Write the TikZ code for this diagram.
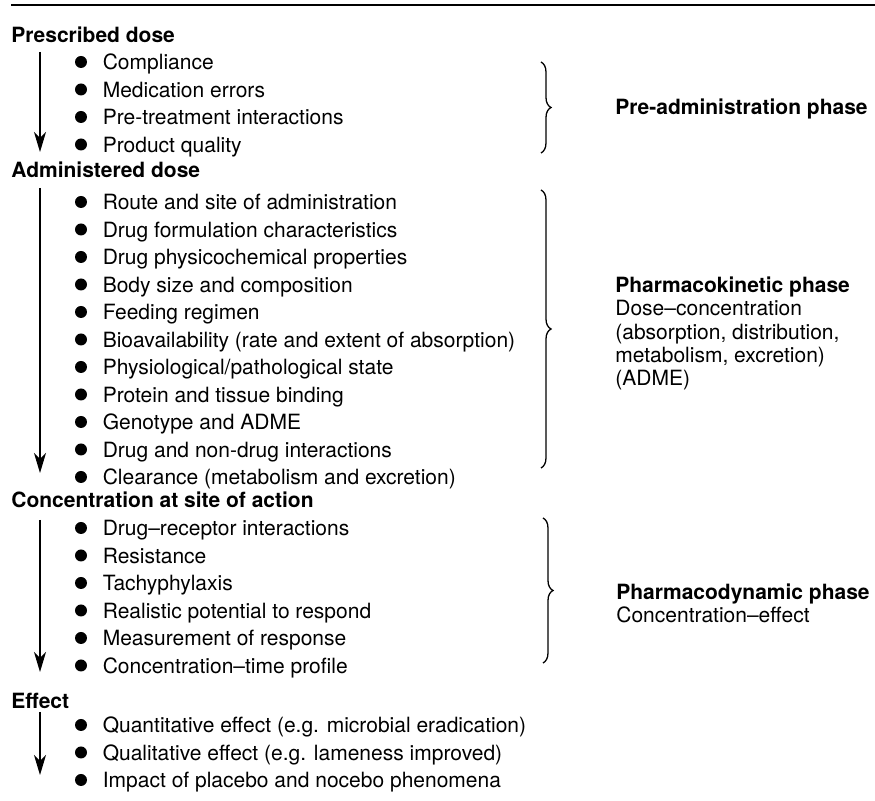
\documentclass[tikz,border=0pt]{standalone}
\usepackage{fontspec}
\setmainfont{TeX Gyre Heros}
\usetikzlibrary{positioning,arrows.meta,decorations.pathreplacing}

\tikzstyle{head} = [anchor=west, inner sep=0pt, text height=0.72em, text depth=0pt, font=\bfseries]
\tikzstyle{item} = [anchor=west, inner sep=0pt, text height=0.72em, text depth=0pt]
\tikzstyle{dot} = [circle, fill, minimum size=6pt, inner sep=0pt]
\tikzstyle{flow} = [line width=0.55pt, -{Stealth[length=10pt,width=6pt,inset=3pt]}]
\tikzstyle{curly} = [decorate, decoration={brace, amplitude=5pt}, line width=0.65pt]

\begin{document}
\fontsize{10.5pt}{12pt}\selectfont
\begin{tikzpicture}[x=0.5pt, y=-0.5pt, node distance=7.35pt]
\useasboundingbox (0,0) rectangle (875,801);
\draw[line width=1.2pt] (11,5) -- (875,5);

\node[head] (pres) at (11,35) {Prescribed dose};
\node[dot] (d1) at (81,62) {};
\node[dot, below=of d1] (d2) {};
\node[dot, below=of d2] (d3) {};
\node[dot, below=of d3] (d4) {};
\node[item, right=7.5pt of d1] (t1) {Compliance};
\node[item, right=7.5pt of d2] (t2) {Medication errors};
\node[item, right=7.5pt of d3] (t3) {Pre-treatment interactions};
\node[item, right=7.5pt of d4] (t4) {Product quality};

\node[head] (admin) at (11,170) {Administered dose};
\node[dot] (d5) at (81,202) {};
\node[dot, below=of d5] (d6) {};
\node[dot, below=of d6] (d7) {};
\node[dot, below=of d7] (d8) {};
\node[dot, below=of d8] (d9) {};
\node[dot, below=of d9] (d10) {};
\node[dot, below=of d10] (d11) {};
\node[dot, below=of d11] (d12) {};
\node[dot, below=of d12] (d13) {};
\node[dot, below=of d13] (d14) {};
\node[dot, below=of d14] (d15) {};
\node[item, right=7.5pt of d5] (t5) {Route and site of administration};
\node[item, right=7.5pt of d6] (t6) {Drug formulation characteristics};
\node[item, right=7.5pt of d7] (t7) {Drug physicochemical properties};
\node[item, right=7.5pt of d8] (t8) {Body size and composition};
\node[item, right=7.5pt of d9] (t9) {Feeding regimen};
\node[item, right=7.5pt of d10] (t10) {Bioavailability (rate and extent of absorption)};
\node[item, right=7.5pt of d11] (t11) {Physiological/pathological state};
\node[item, right=7.5pt of d12] (t12) {Protein and tissue binding};
\node[item, right=7.5pt of d13] (t13) {Genotype and ADME};
\node[item, right=7.5pt of d14] (t14) {Drug and non-drug interactions};
\node[item, right=7.5pt of d15] (t15) {Clearance (metabolism and excretion)};

\node[head] (conc) at (11,500) {Concentration at site of action};
\node[dot] (d16) at (81,528) {};
\node[dot, below=of d16] (d17) {};
\node[dot, below=of d17] (d18) {};
\node[dot, below=of d18] (d19) {};
\node[dot, below=of d19] (d20) {};
\node[dot, below=of d20] (d21) {};
\node[item, right=7.5pt of d16] (t16) {Drug–receptor interactions};
\node[item, right=7.5pt of d17] (t17) {Resistance};
\node[item, right=7.5pt of d18] (t18) {Tachyphylaxis};
\node[item, right=7.5pt of d19] (t19) {Realistic potential to respond};
\node[item, right=7.5pt of d20] (t20) {Measurement of response};
\node[item, right=7.5pt of d21] (t21) {Concentration–time profile};

\node[head] (eff) at (11,701) {Effect};
\node[dot] (d22) at (81,725) {};
\node[dot, below=of d22] (d23) {};
\node[dot, below=of d23] (d24) {};
\node[item, right=7.5pt of d22] (t22) {Quantitative effect (e.g. microbial eradication)};
\node[item, right=7.5pt of d23] (t23) {Qualitative effect (e.g. lameness improved)};
\node[item, right=7.5pt of d24] (t24) {Impact of placebo and nocebo phenomena};

\coordinate (a1s) at (40,52);  \coordinate (a1e) at (40,152);
\coordinate (a2s) at (40,188); \coordinate (a2e) at (40,473);
\coordinate (a3s) at (40,520); \coordinate (a3e) at (40,672);
\coordinate (a4s) at (40,712); \coordinate (a4e) at (40,775);
\draw[flow] (a1s) -- (a1e);
\draw[flow] (a2s) -- (a2e);
\draw[flow] (a3s) -- (a3e);
\draw[flow] (a4s) -- (a4e);

\coordinate (b1t) at (541,62);  \coordinate (b1b) at (541,153);
\coordinate (b2t) at (541,190); \coordinate (b2b) at (541,468);
\coordinate (b3t) at (543,518); \coordinate (b3b) at (543,663);
\draw[curly] (b1t) -- (b1b);
\draw[curly] (b2t) -- (b2b);
\draw[curly] (b3t) -- (b3b);

\node[head] (pre) at (615,107) {Pre-administration phase};
\node[head] (pk) at (615,285) {Pharmacokinetic phase};
\node[item] (pk2) at (615,308) {Dose–concentration};
\node[item] (pk3) at (615,332) {(absorption, distribution,};
\node[item] (pk4) at (615,355) {metabolism, excretion)};
\node[item] (pk5) at (615,378) {(ADME)};
\node[head] (pd) at (616,592) {Pharmacodynamic phase};
\node[item] (pd2) at (616,615) {Concentration–effect};
\end{tikzpicture}
\end{document}
